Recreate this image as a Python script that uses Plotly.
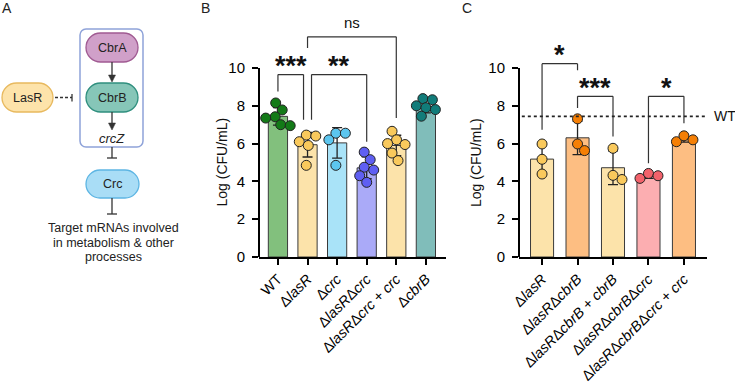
import numpy as np
import plotly.graph_objects as go

W, H = 735, 386
FONT = "Arial, Liberation Sans, sans-serif"

# ---------------- Panel B data ----------------
labels_B = ["WT", "Δ<i>lasR</i>", "Δ<i>crc</i>", "Δ<i>lasR</i>Δ<i>crc</i>",
            "Δ<i>lasR</i>Δ<i>crc</i> + <i>crc</i>", "Δ<i>cbrB</i>"]
vals_B = [
    [8.15, 7.78, 7.42, 7.35, 7.00, 6.95],
    [6.45, 6.40, 6.10, 5.90, 4.85],
    [6.55, 6.55, 6.20, 4.85],
    [5.55, 5.15, 4.75, 4.60, 4.30, 3.95],
    [6.65, 6.20, 6.00, 5.95, 5.50, 5.10],
    [8.38, 8.32, 8.00, 7.90, 7.80, 7.45],
]
bar_col_B = ["#82C07D", "#FCE3AA", "#A9E3F8", "#AAAAF8", "#FCE3AA", "#80BDBA"]
dot_col_B = ["#137A17", "#F9C95C", "#5CC6EF", "#5F5FF2", "#F9C95C", "#117C7A"]

# ---------------- Panel C data ----------------
labels_C = ["Δ<i>lasR</i>", "Δ<i>lasR</i>Δ<i>cbrB</i>", "Δ<i>lasR</i>Δ<i>cbrB</i> + <i>cbrB</i>",
            "Δ<i>lasR</i>Δ<i>cbrB</i>Δ<i>crc</i>", "Δ<i>lasR</i>Δ<i>cbrB</i>Δ<i>crc</i> + <i>crc</i>"]
vals_C = [
    [5.98, 5.17, 4.39],
    [7.31, 5.98, 5.63],
    [5.75, 4.10, 4.32],
    [4.16, 4.42, 4.30],
    [6.10, 6.41, 6.20],
]
bar_col_C = ["#FCE3AA", "#FDBE82", "#FCE3AA", "#FCAEB1", "#FDBE82"]
dot_col_C = ["#F9C95C", "#F57F05", "#F9C95C", "#F2626B", "#F57F05"]

# significance: (text, left cat, right cat, top, left-leg bottom, right-leg bottom)
sig_B = [("***", 0.0, 0.865, 9.65, 8.76, 7.26),
         ("**", 1.135, 3.0, 9.65, 7.26, 6.10),
         ("ns", 1.0, 4.0, 11.65, 11.06, 7.35)]
sig_C = [("*", 0.0, 1.0, 10.23, 6.73, 9.88),
         ("***", 1.0, 2.0, 8.50, 7.88, 6.37),
         ("*", 3.0, 4.0, 8.50, 4.96, 7.08)]

# ---------------- layout geometry (pixels) ----------------
y0px, ppy = 257.0, 18.9
ymax = 12.6
ytop_px = y0px - ymax * ppy
B_x = (259.0, 446.0); B_range = (-0.64, 5.68)
C_x = (519.0, 707.0); C_range = (-0.65, 4.65)


def swarm(vals, ppx, d=10.0):
    vals = np.asarray(vals, float)
    order = np.argsort(-vals)
    placed, offs = [], np.zeros(len(vals))
    cands = [0.0]
    for k in range(1, 80):
        cands += [k * 0.5, -k * 0.5]
    for idx in order:
        yy = vals[idx] * ppy
        for c in cands:
            if all((c - px) ** 2 + (yy - py) ** 2 >= (d * 0.95) ** 2 for px, py in placed):
                offs[idx] = c
                placed.append((c, yy))
                break
    offs = offs - (offs.max() + offs.min()) / 2 * (len(vals) > 3)
    return offs / ppx


fig = go.Figure()


def add_panel(vals_list, bar_cols, dot_cols, xa, ya, xpx, xr):
    ppx = (xpx[1] - xpx[0]) / (xr[1] - xr[0])
    for i, vals in enumerate(vals_list):
        m = float(np.mean(vals)); sd = float(np.std(vals, ddof=1))
        fig.add_trace(go.Bar(x=[i], y=[m], width=0.65, xaxis=xa, yaxis=ya, showlegend=False,
                             marker=dict(color=bar_cols[i], line=dict(color="#3a3a3a", width=1)),
                             error_y=dict(type="data", array=[sd], color="#222", thickness=1.3, width=5)))
        offs = swarm(vals, ppx)
        fig.add_trace(go.Scatter(x=i + offs, y=vals, mode="markers", xaxis=xa, yaxis=ya, showlegend=False,
                                 marker=dict(size=10, color=dot_cols[i], line=dict(color="#222", width=1))))


add_panel(vals_B, bar_col_B, dot_col_B, "x", "y", B_x, B_range)
add_panel(vals_C, bar_col_C, dot_col_C, "x2", "y2", C_x, C_range)
fig.add_trace(go.Scatter(x=[None], y=[None], xaxis="x3", yaxis="y3", showlegend=False, hoverinfo="skip"))

shapes, annos = [], []


def axis_dicts(xpx, xr, labels, ya):
    xd = dict(domain=[xpx[0] / W, xpx[1] / W], range=list(xr), tickvals=list(range(len(labels))),
              ticktext=labels, tickangle=-45, ticks="outside", ticklen=6, tickwidth=2, tickcolor="black",
              showline=True, linewidth=2, linecolor="black", showgrid=False, zeroline=False,
              tickfont=dict(size=14.5, color="black", family=FONT), anchor=ya, automargin=False,
              fixedrange=True)
    yd = dict(domain=[1 - y0px / H, 1 - ytop_px / H], range=[0, ymax], tickvals=[0, 2, 4, 6, 8, 10],
              ticks="outside", ticklen=6, tickwidth=2, tickcolor="black", showline=False,
              showgrid=False, zeroline=False, tickfont=dict(size=15, color="black", family=FONT),
              automargin=False, ticklabelstandoff=4, fixedrange=True)
    return xd, yd


xB, yB = axis_dicts(B_x, B_range, labels_B, "y"); yB["anchor"] = "x"
xC, yC = axis_dicts(C_x, C_range, labels_C, "y2"); yC["anchor"] = "x2"

# y axis lines only from 0 to 10
for xa, ya in [("x", "y"), ("x2", "y2")]:
    shapes.append(dict(type="line", xref=f"{xa} domain", yref=ya, x0=0, x1=0, y0=-0.05, y1=10,
                       line=dict(color="black", width=2)))


def add_sig(sig, xa, ya):
    for txt, xl, xr_, top, bl, br in sig:
        for (xx0, yy0, xx1, yy1) in [(xl, bl, xl, top), (xl, top, xr_, top), (xr_, top, xr_, br)]:
            shapes.append(dict(type="line", xref=xa, yref=ya, x0=xx0, y0=yy0, x1=xx1, y1=yy1,
                               line=dict(color="#333", width=1.2)))
        if txt == "ns":
            annos.append(dict(x=(xl + xr_) / 2, y=top + 0.75, xref=xa, yref=ya, text="ns",
                              showarrow=False, font=dict(size=15, color="#111", family=FONT)))
        else:
            annos.append(dict(x=(xl + xr_) / 2, y=top + 0.7, xref=xa, yref=ya, text=f"<b>{txt}</b>",
                              showarrow=False, yshift=-5, font=dict(size=27, color="#111", family=FONT)))


add_sig(sig_B, "x", "y")
add_sig(sig_C, "x2", "y2")

# WT reference line in panel C
wt_mean = float(np.mean(vals_B[0]))
shapes.append(dict(type="line", xref="x2 domain", yref="y2", x0=0.015, x1=0.99, y0=wt_mean, y1=wt_mean,
                   line=dict(color="#222", width=1.6, dash="dot")))
annos.append(dict(x=712 / W, y=wt_mean, xref="paper", yref="y2", text="WT", xanchor="left",
                  showarrow=False, font=dict(size=14, color="#111", family=FONT)))

# axis titles and panel letters (pixel coordinates on overlay axes)
for xx, txt in [(221, "Log (CFU/mL)"), (475.5, "Log (CFU/mL)")]:
    annos.append(dict(x=xx, y=162.5, xref="x3", yref="y3", text=txt, textangle=-90, showarrow=False,
                      font=dict(size=14, color="#111", family=FONT)))
for xx, txt in [(7, "A"), (205, "B"), (467, "C")]:
    annos.append(dict(x=xx, y=8, xref="x3", yref="y3", text=txt, showarrow=False,
                      font=dict(size=14, color="#222", family=FONT)))


# ---------------- Panel A diagram (pixel coordinates) ----------------
def rrect(x0, y0, x1, y1, r):
    k = 0.5523 * r
    return (f"M{x0 + r},{y0} L{x1 - r},{y0} C{x1 - r + k},{y0} {x1},{y0 + r - k} {x1},{y0 + r} "
            f"L{x1},{y1 - r} C{x1},{y1 - r + k} {x1 - r + k},{y1} {x1 - r},{y1} "
            f"L{x0 + r},{y1} C{x0 + r - k},{y1} {x0},{y1 - r + k} {x0},{y1 - r} "
            f"L{x0},{y0 + r} C{x0},{y0 + r - k} {x0 + r - k},{y0} {x0 + r},{y0} Z")


def px_shape(**kw):
    d = dict(xref="x3", yref="y3", layer="above")
    d.update(kw)
    shapes.append(d)


px_shape(type="path", path=rrect(80, 29, 143, 147, 6), fillcolor="white",
         line=dict(color="#8FA3D9", width=1.5))
pills = [("CbrA", 86, 33, 138, 62, "#D0A0C9", "#A05A92"),
         ("CbrB", 86, 83, 138, 112, "#86C6B8", "#2F8F7E"),
         ("LasR", 2, 83, 53, 112, "#FDE3AA", "#E8B95E"),
         ("Crc", 86, 170, 139, 198, "#A9DDF6", "#5DB5E3")]
for txt, a, b, c, d, fc, lc in pills:
    px_shape(type="path", path=rrect(a, b, c, d, (d - b) / 2), fillcolor=fc, line=dict(color=lc, width=1.3))
    annos.append(dict(x=(a + c) / 2, y=(b + d) / 2, xref="x3", yref="y3", text=txt, showarrow=False,
                      font=dict(size=12.5, color="#222", family=FONT)))

LC = "#333"
# activation arrows
for ys, ye in [(62, 76), (112, 124)]:
    px_shape(type="line", x0=112, x1=112, y0=ys, y1=ye, line=dict(color=LC, width=1.3))
    px_shape(type="path", path=f"M108.5,{ye - 1} L115.5,{ye - 1} L112,{ye + 6} Z", fillcolor=LC,
             line=dict(color=LC, width=0.5))
annos.append(dict(x=112, y=138, xref="x3", yref="y3", text="<i>crcZ</i>", showarrow=False,
                  font=dict(size=13, color="#222", family=FONT)))
# LasR dashed inhibition
px_shape(type="line", x0=55, x1=72, y0=97.5, y1=97.5, line=dict(color=LC, width=1.3, dash="3px,2px"))
px_shape(type="line", x0=72, x1=72, y0=94, y1=101.5, line=dict(color=LC, width=1.3))
# crcZ -| Crc, Crc -| targets
for ys, ye in [(147, 158), (198, 214)]:
    px_shape(type="line", x0=112, x1=112, y0=ys, y1=ye, line=dict(color=LC, width=1.3))
    px_shape(type="line", x0=107, x1=117, y0=ye, y1=ye, line=dict(color=LC, width=1.3))
for yy, txt in [(228, "Target mRNAs involved"), (243, "in metabolism &amp; other"), (257, "processes")]:
    annos.append(dict(x=113, y=yy, xref="x3", yref="y3", text=txt, showarrow=False,
                      font=dict(size=12.5, color="#222", family=FONT)))

fig.update_layout(
    width=W, height=H, margin=dict(l=0, r=0, t=0, b=0), template="none",
    paper_bgcolor="white", plot_bgcolor="rgba(0,0,0,0)", barmode="overlay", showlegend=False,
    xaxis=xB, yaxis=yB, xaxis2=xC, yaxis2=yC,
    xaxis3=dict(domain=[0, 1], range=[0, W], visible=False, anchor="y3", fixedrange=True),
    yaxis3=dict(domain=[0, 1], range=[H, 0], visible=False, anchor="x3", fixedrange=True),
    shapes=shapes, annotations=annos, font=dict(family=FONT),
)

fig.write_html("out.html")
